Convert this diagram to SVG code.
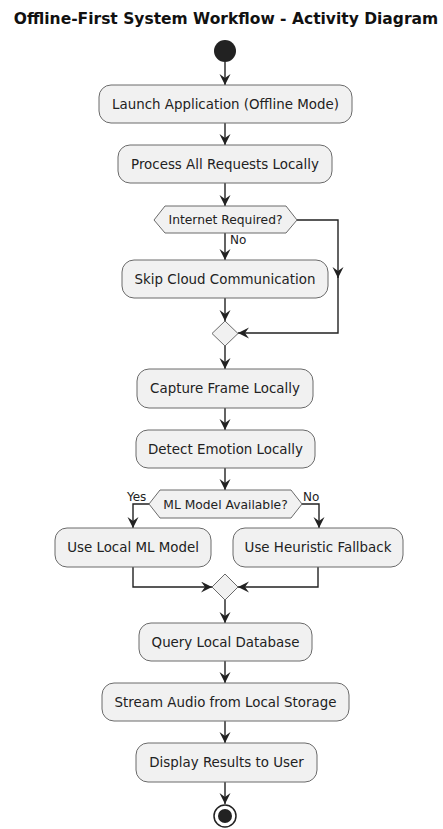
<svg xmlns="http://www.w3.org/2000/svg" width="443" height="829" viewBox="0 0 443 829">
<style>
.box{fill:#F1F1F1;stroke:#6a6a6a;stroke-width:1}
.t{font-family:"DejaVu Sans",sans-serif;font-size:13.4px;fill:#222;text-anchor:middle}
.ts{font-family:"DejaVu Sans",sans-serif;font-size:12.3px;fill:#222;text-anchor:middle}
.lbl{font-family:"DejaVu Sans",sans-serif;font-size:12px;fill:#222}
.title{font-family:"DejaVu Sans",sans-serif;font-size:15.5px;font-weight:bold;fill:#111;text-anchor:middle}
.c{fill:none;stroke:#222;stroke-width:1.4;marker-end:url(#arr)}
</style>
<defs>
<marker id="arr" markerUnits="userSpaceOnUse" markerWidth="12" markerHeight="12" refX="11" refY="5.5" orient="auto">
<path d="M0,0 L11,5.5 L0,11 L4,5.5 Z" fill="#222"/>
</marker>
</defs>
<rect width="443" height="829" fill="#fff"/>
<text class="title" x="226" y="24">Offline-First System Workflow - Activity Diagram</text>

<g id="connectors">
<path class="c" d="M225,62 V85"/>
<path class="c" d="M225,123 V145"/>
<path class="c" d="M225,183 V206"/>
<path class="c" d="M225,233 V260"/>
<text class="lbl" x="230" y="244">No</text>
<path class="c" d="M297,220 H338 V278"/>
<path class="c" d="M338,276 V333 H238"/>
<path class="c" d="M225,298 V321"/>
<path class="c" d="M225,346 V369"/>
<path class="c" d="M225,408 V430"/>
<path class="c" d="M225,468 V490"/>
<path class="c" d="M149,504 H133 V528"/>
<text class="lbl" x="127" y="501">Yes</text>
<path class="c" d="M302,504 H319 V528"/>
<text class="lbl" x="303" y="501">No</text>
<path class="c" d="M133,567 V587 H212"/>
<path class="c" d="M318,567 V587 H238"/>
<path class="c" d="M225,600 V623"/>
<path class="c" d="M225,661 V683"/>
<path class="c" d="M225,721 V743"/>
<path class="c" d="M225,782 V804"/>
</g>

<g id="start"><circle cx="225" cy="51" r="11" fill="#222"/></g>

<g id="launch"><rect class="box" x="99" y="85" width="253" height="38" rx="12"/><text class="t" x="225.5" y="108.5">Launch Application (Offline Mode)</text></g>
<g id="process"><rect class="box" x="118" y="145" width="214" height="38" rx="12"/><text class="t" x="225" y="168.5">Process All Requests Locally</text></g>
<g id="internet"><polygon class="box" points="154,220 165,206 286,206 297,220 286,233 165,233"/><text class="ts" x="225.5" y="224">Internet Required?</text></g>
<g id="skip"><rect class="box" x="122" y="260" width="206" height="38" rx="12"/><text class="t" x="225" y="283.5">Skip Cloud Communication</text></g>
<g id="merge1"><polygon class="box" points="225,321 238,333.5 225,346 212,333.5"/></g>
<g id="capture"><rect class="box" x="137" y="369" width="176" height="39" rx="12"/><text class="t" x="225" y="393">Capture Frame Locally</text></g>
<g id="detect"><rect class="box" x="136" y="430" width="179" height="38" rx="12"/><text class="t" x="225.5" y="453.5">Detect Emotion Locally</text></g>
<g id="mlavail"><polygon class="box" points="149,504 160,490 291,490 302,504 291,518 160,518"/><text class="ts" x="225.5" y="508.5">ML Model Available?</text></g>
<g id="localml"><rect class="box" x="55" y="528" width="156" height="39" rx="12"/><text class="t" x="133" y="552">Use Local ML Model</text></g>
<g id="heuristic"><rect class="box" x="233" y="528" width="170" height="39" rx="12"/><text class="t" x="318" y="552">Use Heuristic Fallback</text></g>
<g id="merge2"><polygon class="box" points="225,574 238,587 225,600 212,587"/></g>
<g id="query"><rect class="box" x="139" y="623" width="173" height="38" rx="12"/><text class="t" x="225.5" y="646.5">Query Local Database</text></g>
<g id="stream"><rect class="box" x="102" y="683" width="247" height="38" rx="12"/><text class="t" x="225.5" y="706.5">Stream Audio from Local Storage</text></g>
<g id="display"><rect class="box" x="136" y="743" width="181" height="39" rx="12"/><text class="t" x="226.5" y="767">Display Results to User</text></g>
<g id="end"><circle cx="225" cy="816" r="11" fill="#fff" stroke="#222" stroke-width="1.5"/><circle cx="225" cy="816" r="7" fill="#222"/></g>
</svg>
